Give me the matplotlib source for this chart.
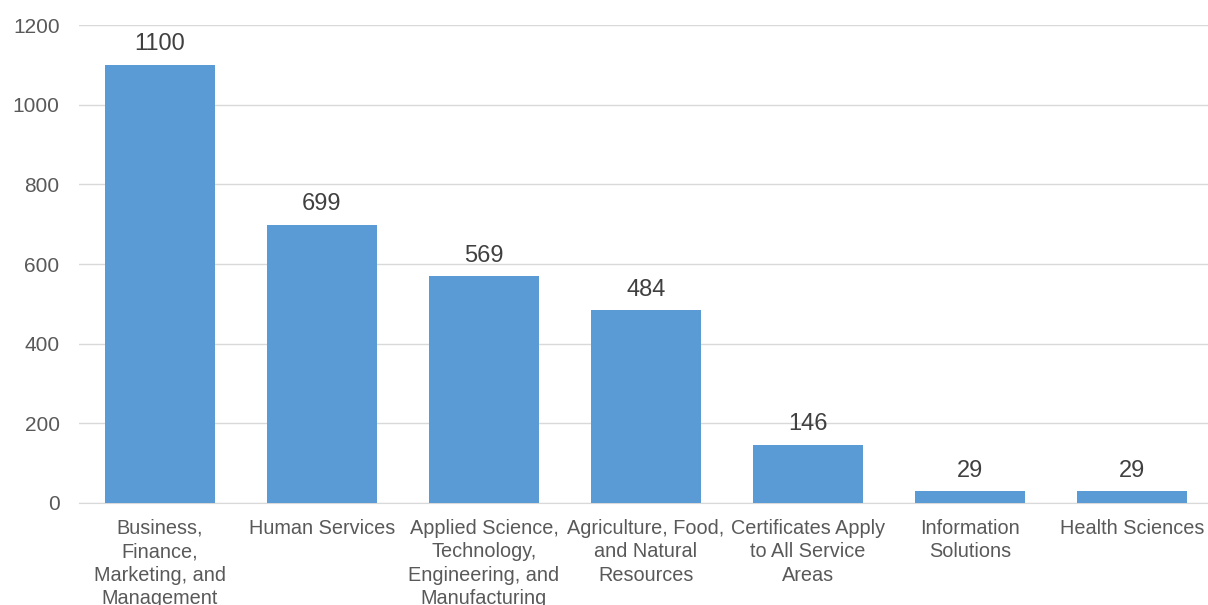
import matplotlib
matplotlib.use("Agg")
import matplotlib.pyplot as plt

plt.rcParams['font.family'] = ['Liberation Sans', 'DejaVu Sans']

# Certificates by service area
areas = ["Business,\nFinance,\nMarketing, and\nManagement",
         "Human Services",
         "Applied Science,\nTechnology,\nEngineering, and\nManufacturing",
         "Agriculture, Food,\nand Natural\nResources",
         "Certificates Apply\nto All Service\nAreas",
         "Information\nSolutions",
         "Health Sciences"]
counts = [1100, 699, 569, 484, 146, 29, 29]

fig = plt.figure(figsize=(12.08, 6.05), dpi=100)
ax = fig.add_axes([0.0654, 0.1686, 0.9387, 0.790])

x = range(len(counts))
bars = ax.bar(x, counts, width=0.68, color='#5B9BD5', zorder=3)

for rect, v in zip(bars, counts):
    ax.annotate(str(v), (rect.get_x() + rect.get_width() / 2, v),
                xytext=(0, 7), textcoords='offset points',
                ha='center', va='bottom', fontsize=17, color='#404040')

ax.set_xlim(-0.5, len(counts) - 0.5)
ax.set_ylim(0, 1200)
ax.set_yticks(range(0, 1201, 200))
ax.set_xticks(list(x))
ax.set_xticklabels(areas, fontsize=14.3, color='#595959', linespacing=1.3)
ax.tick_params(axis='y', labelsize=15, labelcolor='#595959', length=0, pad=14)
ax.tick_params(axis='x', length=0, pad=11.5)

ax.grid(axis='y', color='#D9D9D9', linewidth=1, zorder=0)
for s in ['top', 'right', 'left']:
    ax.spines[s].set_visible(False)
ax.spines['bottom'].set_color('#D9D9D9')

fig.savefig('out.png', dpi=100)
